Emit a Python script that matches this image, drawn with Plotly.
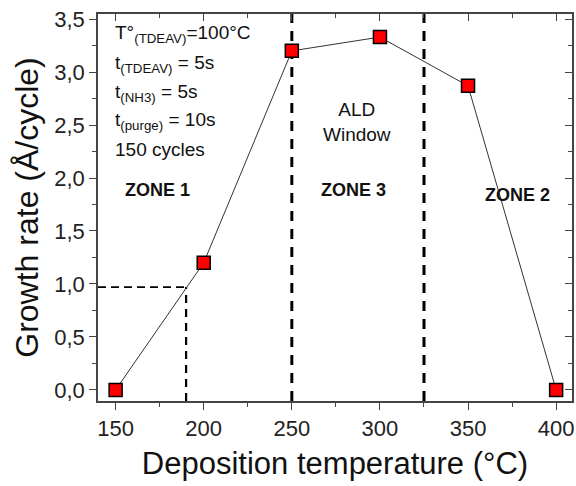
import plotly.graph_objects as go

# ---- data ----
temperature = [150, 200, 250, 300, 350, 400]
growth_rate = [0.0, 1.2, 3.2, 3.33, 2.87, 0.0]

x_ticks = [150, 200, 250, 300, 350, 400]
x_tick_labels = ["150", "200", "250", "300", "350", "400"]
y_ticks = [0.0, 0.5, 1.0, 1.5, 2.0, 2.5, 3.0, 3.5]
y_tick_labels = ["0,0", "0,5", "1,0", "1,5", "2,0", "2,5", "3,0", "3,5"]

zone_bounds = [250, 325]          # vertical dashed zone separators
onset_x = 190                     # onset temperature guide
onset_y = 0.97                    # growth rate guide

conditions = [
    "T°<sub>(TDEAV)</sub>=100°C",
    "t<sub>(TDEAV)</sub> = 5s",
    "t<sub>(NH3)</sub> = 5s",
    "t<sub>(purge)</sub> = 10s",
    "150 cycles",
]
condition_y = [3.36, 3.08, 2.80, 2.54, 2.27]

zone_labels = ["ZONE 1", "ZONE 3", "ZONE 2"]
zone_label_x = [174, 285, 378]
zone_label_y = [1.89, 1.89, 1.84]

x_range = [140, 409]
y_range = [-0.105, 3.548]

FONT = "Liberation Sans, Arial, sans-serif"

fig = go.Figure()

# dashed guide lines
fig.add_trace(go.Scatter(
    x=[x_range[0], onset_x], y=[onset_y, onset_y], mode="lines",
    line=dict(color="black", width=1.8, dash="8px,5px"),
    hoverinfo="skip", showlegend=False))
fig.add_trace(go.Scatter(
    x=[onset_x, onset_x], y=[y_range[0], onset_y], mode="lines",
    line=dict(color="black", width=2.2, dash="8px,6px"),
    hoverinfo="skip", showlegend=False))
for xb in zone_bounds:
    fig.add_trace(go.Scatter(
        x=[xb, xb], y=y_range, mode="lines",
        line=dict(color="black", width=3, dash="10px,8px"),
        hoverinfo="skip", showlegend=False))

# data
fig.add_trace(go.Scatter(
    x=temperature, y=growth_rate, mode="lines+markers",
    line=dict(color="#333333", width=1),
    marker=dict(symbol="square", size=13, color="#ff0000",
                line=dict(color="black", width=1.5)),
    showlegend=False))

# invisible trace for mirror axes
fig.add_trace(go.Scatter(x=[x_range[0]], y=[y_range[0]], xaxis="x2", yaxis="y2",
                         mode="markers", marker=dict(opacity=0),
                         hoverinfo="skip", showlegend=False))

annotations = []
for txt, yy in zip(conditions, condition_y):
    annotations.append(dict(x=148.5, y=yy, xref="x", yref="y", text=txt,
                            showarrow=False, xanchor="left", yanchor="middle",
                            font=dict(family=FONT, size=19, color="#111")))
for txt, xx, yy in zip(zone_labels, zone_label_x, zone_label_y):
    annotations.append(dict(x=xx, y=yy, xref="x", yref="y", text="<b>" + txt + "</b>",
                            showarrow=False, xanchor="center", yanchor="middle",
                            font=dict(family=FONT, size=18, color="#111")))
annotations.append(dict(x=287, y=2.53, xref="x", yref="y", text="ALD<br>Window",
                        showarrow=False, xanchor="center", yanchor="middle",
                        font=dict(family=FONT, size=19, color="#111")))

axis_common = dict(showgrid=False, zeroline=False, showline=True,
                   linecolor="#444", linewidth=1.5, tickcolor="#444",
                   tickwidth=1.3, automargin=False)

fig.update_layout(
    width=576, height=486,
    margin=dict(l=98, r=4, t=14, b=85),
    paper_bgcolor="white", plot_bgcolor="white",
    font=dict(family=FONT, color="#111"),
    xaxis=dict(range=x_range, tickvals=x_ticks, ticktext=x_tick_labels,
               ticks="outside", ticklen=7,
               minor=dict(dtick=25, tick0=150, ticks="outside", ticklen=4, tickcolor="#444"),
               tickfont=dict(size=22, family=FONT, color="#222"),
               title=dict(text="Deposition temperature (°C)",
                          font=dict(size=31, family=FONT, color="#111"), standoff=12),
               **axis_common),
    yaxis=dict(range=y_range, tickvals=y_ticks, ticktext=y_tick_labels,
               ticks="outside", ticklen=7,
               minor=dict(dtick=0.25, tick0=0, ticks="outside", ticklen=4, tickcolor="#444"),
               tickfont=dict(size=22, family=FONT, color="#222"),
               title=dict(text="Growth rate (Å/cycle)",
                          font=dict(size=32, family=FONT, color="#111"), standoff=6),
               **axis_common),
    xaxis2=dict(range=x_range, overlaying="x", side="top", tickvals=x_ticks,
                showticklabels=False, ticks="inside", ticklen=7,
                minor=dict(dtick=25, tick0=150, ticks="inside", ticklen=4, tickcolor="#444"),
                **axis_common),
    yaxis2=dict(range=y_range, overlaying="y", side="right", tickvals=y_ticks,
                showticklabels=False, ticks="inside", ticklen=7,
                minor=dict(dtick=0.25, tick0=0, ticks="inside", ticklen=4, tickcolor="#444"),
                **axis_common),
    annotations=annotations,
)

fig.write_html("out.html", config={"displayModeBar": False},
               post_script="document.body.style.margin='0';")
